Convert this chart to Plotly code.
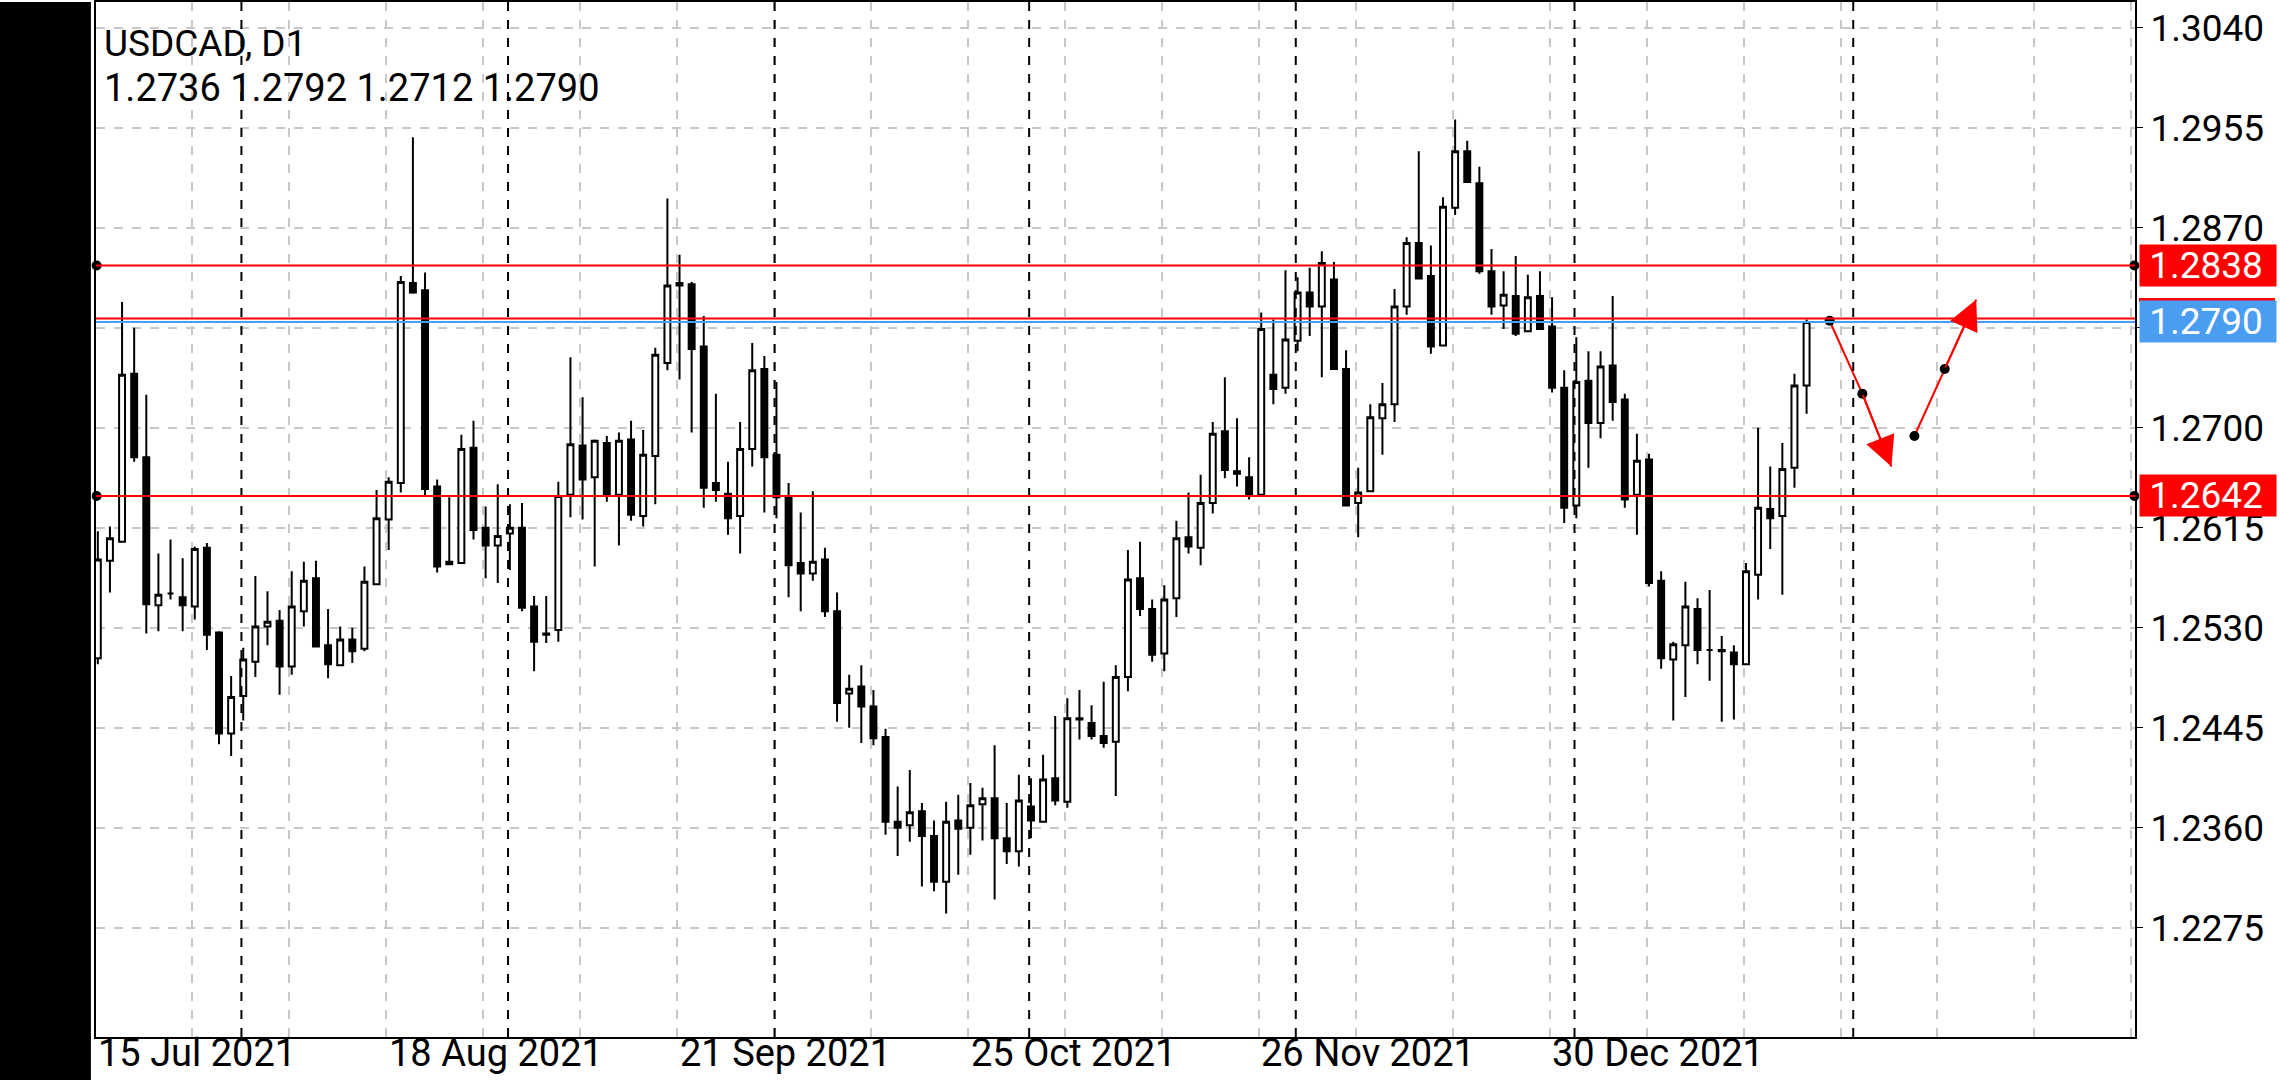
import plotly.graph_objects as go

# ---- data (USDCAD D1), bar index 0 = 15 Jul 2021 ----
opens = [1.2504,1.2587,1.2603,1.2746,1.2675,1.2549,1.2559,1.2556,1.2548,1.2598,
         1.2526,1.2440,1.2472,1.2501,1.2531,1.2536,1.2497,1.2544,1.2572,1.2515,
         1.2498,1.2520,1.2512,1.2567,1.2622,1.2653,1.2823,1.2817,1.2650,1.2584,
         1.2585,1.2683,1.2615,1.2600,1.2610,1.2615,1.2548,1.2525,1.2528,1.2643,
         1.2685,1.2658,1.2687,1.2643,1.2690,1.2625,1.2676,1.2755,1.2823,1.2822,
         1.2769,1.2653,1.2644,1.2625,1.2682,1.2750,1.2677,1.2641,1.2585,1.2576,
         1.2588,1.2544,1.2474,1.2480,1.2463,1.2437,1.2365,1.2362,1.2374,1.2353,
         1.2314,1.2366,1.2360,1.2380,1.2385,1.2351,1.2340,1.2378,1.2365,1.2402,
         1.2382,1.2453,1.2449,1.2438,1.2433,1.2488,1.2572,1.2546,1.2508,1.2555,
         1.2607,1.2598,1.2636,1.2697,1.2663,1.2658,1.2643,1.2745,1.2734,1.2774,
         1.2815,1.2803,1.2826,1.2750,1.2636,1.2646,1.2708,1.2720,1.2803,1.2857,
         1.2829,1.2770,1.2887,1.2935,1.2908,1.2833,1.2804,1.2812,1.2782,1.2812,
         1.2786,1.2734,1.2634,1.2740,1.2704,1.2753,1.2724,1.2643,1.2673,1.2570,
         1.2503,1.2515,1.2546,1.2511,1.2511,1.2509,1.2499,1.2575,1.2631,1.2625,
         1.2666,1.2736]
highs = [1.2612,1.2616,1.2807,1.2785,1.2728,1.2593,1.2605,1.2589,1.2599,1.2602,
         1.2527,1.2489,1.2513,1.2574,1.2561,1.2545,1.2578,1.2586,1.2587,1.2546,
         1.2531,1.2530,1.2582,1.2647,1.2658,1.2829,1.2947,1.2832,1.2656,1.2641,
         1.2694,1.2706,1.2633,1.2652,1.2635,1.2636,1.2557,1.2557,1.2654,1.2760,
         1.2726,1.2690,1.2693,1.2696,1.2706,1.2698,1.2768,1.2895,1.2847,1.2824,
         1.2795,1.2729,1.2671,1.2705,1.2772,1.2761,1.2739,1.2653,1.2628,1.2646,
         1.2598,1.2560,1.2490,1.2498,1.2477,1.2444,1.2395,1.2409,1.2381,1.2366,
         1.2382,1.2388,1.2398,1.2394,1.2430,1.2381,1.2405,1.2402,1.2422,1.2455,
         1.2470,1.2477,1.2464,1.2484,1.2498,1.2596,1.2603,1.2554,1.2566,1.2621,
         1.2645,1.2660,1.2705,1.2743,1.2708,1.2675,1.2798,1.2792,1.2834,1.2828,
         1.2836,1.2850,1.2841,1.2766,1.2666,1.2720,1.2738,1.2818,1.2862,1.2935,
         1.2855,1.2896,1.2962,1.2944,1.2922,1.2852,1.2833,1.2846,1.2830,1.2833,
         1.2811,1.2749,1.2777,1.2765,1.2765,1.2812,1.2729,1.2695,1.2678,1.2578,
         1.2518,1.2569,1.2555,1.2562,1.2523,1.2515,1.2585,1.2700,1.2667,1.2687,
         1.2746,1.2792]
lows = [1.2499,1.2560,1.2603,1.2671,1.2525,1.2527,1.2554,1.2527,1.2537,1.2511,
        1.2431,1.2421,1.2451,1.2488,1.2515,1.2473,1.2490,1.2531,1.2514,1.2487,
        1.2498,1.2500,1.2510,1.2566,1.2596,1.2645,1.2814,1.2642,1.2577,1.2584,
        1.2585,1.2605,1.2572,1.2568,1.2579,1.2544,1.2493,1.2517,1.2518,1.2624,
        1.2622,1.2582,1.2637,1.2600,1.2621,1.2616,1.2635,1.2749,1.2741,1.2696,
        1.2632,1.2637,1.2609,1.2593,1.2667,1.2628,1.2623,1.2556,1.2544,1.2570,
        1.2539,1.2450,1.2445,1.2432,1.2430,1.2354,1.2336,1.2348,1.2310,1.2306,
        1.2287,1.2320,1.2337,1.2349,1.2299,1.2329,1.2327,1.2351,1.2365,1.2379,
        1.2377,1.2435,1.2435,1.2428,1.2387,1.2476,1.2540,1.2501,1.2493,1.2539,
        1.2593,1.2583,1.2627,1.2657,1.2650,1.2639,1.2643,1.2720,1.2729,1.2765,
        1.2778,1.2743,1.2750,1.2633,1.2607,1.2646,1.2677,1.2705,1.2796,1.2827,
        1.2763,1.2770,1.2881,1.2909,1.2831,1.2796,1.2784,1.2778,1.2782,1.2784,
        1.2730,1.2619,1.2623,1.2666,1.2691,1.2706,1.2632,1.2609,1.2565,1.2495,
        1.2451,1.2471,1.2499,1.2485,1.2450,1.2452,1.2499,1.2554,1.2597,1.2558,
        1.2649,1.2712]
closes = [1.2588,1.2606,1.2745,1.2675,1.2550,1.2558,1.2559,1.2549,1.2597,1.2524,
          1.2440,1.2471,1.2503,1.2531,1.2535,1.2497,1.2548,1.2570,1.2514,1.2499,
          1.2520,1.2510,1.2569,1.2623,1.2654,1.2824,1.2815,1.2648,1.2582,1.2586,
          1.2682,1.2613,1.2600,1.2608,1.2615,1.2547,1.2518,1.2524,1.2642,1.2686,
          1.2656,1.2689,1.2642,1.2689,1.2626,1.2677,1.2762,1.2821,1.2821,1.2767,
          1.2649,1.2647,1.2623,1.2682,1.2749,1.2675,1.2641,1.2583,1.2576,1.2586,
          1.2544,1.2466,1.2478,1.2463,1.2436,1.2365,1.2360,1.2373,1.2353,1.2314,
          1.2365,1.2359,1.2379,1.2385,1.2351,1.2340,1.2383,1.2366,1.2401,1.2383,
          1.2453,1.2452,1.2438,1.2432,1.2488,1.2571,1.2546,1.2507,1.2554,1.2606,
          1.2599,1.2636,1.2695,1.2664,1.2661,1.2642,1.2784,1.2733,1.2775,1.2815,
          1.2803,1.2840,1.2750,1.2634,1.2645,1.2709,1.2720,1.2803,1.2857,1.2827,
          1.2769,1.2888,1.2935,1.2909,1.2833,1.2803,1.2813,1.2780,1.2811,1.2784,
          1.2734,1.2632,1.2739,1.2704,1.2752,1.2722,1.2639,1.2672,1.2568,1.2504,
          1.2516,1.2548,1.2511,1.2511,1.2510,1.2499,1.2578,1.2632,1.2623,1.2665,
          1.2736,1.2790]
bars = list(range(len(closes)))

price_ticks = [1.2275, 1.2360, 1.2445, 1.2530, 1.2615, 1.2700, 1.2785, 1.2870, 1.2955, 1.3040]
date_labels = ["15 Jul 2021", "18 Aug 2021", "21 Sep 2021", "25 Oct 2021", "26 Nov 2021", "30 Dec 2021"]
date_label_bars = [0, 24, 48, 72, 96, 120]
month_sep_bars = [12, 34, 56, 77, 99, 122, 145]
grid_bars = list(range(8, 169, 8))

levels_red = [1.2838, 1.2642]
red_high_line = 1.2793
bid = 1.2790

# projection path (two polylines)
proj1_x = [142.9, 145.6, 148.0]
proj1_y = [1.2791, 1.2729, 1.2667]
proj2_x = [149.9, 152.4, 155.0]
proj2_y = [1.2693, 1.2750, 1.2809]

X0, X1 = -0.15, 168.1
Y0, Y1 = 1.2182, 1.3062
FONT = "Roboto"
BLUE = "#4a9df0"

fig = go.Figure()
fig.add_trace(go.Candlestick(
    x=bars, open=opens, high=highs, low=lows, close=closes,
    increasing=dict(line=dict(color="black", width=2), fillcolor="white"),
    decreasing=dict(line=dict(color="black", width=2), fillcolor="black"),
    whiskerwidth=0, showlegend=False, hoverinfo="skip"))

shapes = []
shapes.append(dict(type="rect", xref="paper", yref="paper", x0=-0.0475, x1=-0.0025,
                   y0=-0.05, y1=1.0, fillcolor="black", line=dict(width=0), layer="above"))
for b in month_sep_bars:
    shapes.append(dict(type="line", xref="x", yref="paper", x0=b - 0.15, x1=b - 0.15, y0=0, y1=1,
                       line=dict(color="black", width=2, dash="dash"), layer="above"))
for lv in levels_red:
    shapes.append(dict(type="line", xref="paper", yref="y", x0=0, x1=1, y0=lv, y1=lv,
                       line=dict(color="red", width=2)))
shapes.append(dict(type="line", xref="paper", yref="y", x0=0, x1=1, y0=bid, y1=bid,
                   line=dict(color=BLUE, width=2)))
shapes.append(dict(type="line", xref="paper", yref="y", x0=0, x1=1, y0=red_high_line, y1=red_high_line,
                   line=dict(color="red", width=2)))
# red price tag peeking above the blue bid tag
shapes.append(dict(type="rect", xref="paper", yref="y", xsizemode="pixel", ysizemode="pixel",
                   xanchor=1, yanchor=bid, x0=4, x1=140, y0=20, y1=24,
                   fillcolor="red", line=dict(width=0)))
fig.update_layout(shapes=shapes)

fig.add_trace(go.Scatter(x=[X0 + 0.05, X1 - 0.05] * 2,
                         y=[levels_red[0], levels_red[0], levels_red[1], levels_red[1]],
                         mode="markers", marker=dict(color="black", size=10),
                         showlegend=False, hoverinfo="skip", cliponaxis=False))
for px, py in ((proj1_x, proj1_y), (proj2_x, proj2_y)):
    fig.add_trace(go.Scatter(x=px, y=py, mode="lines", line=dict(color="red", width=2),
                             showlegend=False, hoverinfo="skip"))
    fig.add_trace(go.Scatter(x=px[:2], y=py[:2], mode="markers", marker=dict(color="black", size=10),
                             showlegend=False, hoverinfo="skip"))
    fig.add_annotation(x=px[2], y=py[2], ax=px[1], ay=py[1], xref="x", yref="y", axref="x", ayref="y",
                       showarrow=True, arrowhead=2, arrowsize=3, arrowwidth=2, arrowcolor="red", text="")

anns = []
anns.append(dict(text="USDCAD, D1", xref="paper", yref="paper", x=0.003, y=0.960, xanchor="left",
                 yanchor="middle", showarrow=False, font=dict(family=FONT, size=37, color="black")))
anns.append(dict(text="%.4f %.4f %.4f %.4f" % (opens[-1], highs[-1], lows[-1], closes[-1]),
                 xref="paper", yref="paper", x=0.003, y=0.917, xanchor="left", yanchor="middle",
                 showarrow=False, font=dict(family=FONT, size=38, color="black")))
for t, b in zip(date_labels, date_label_bars):
    anns.append(dict(text=t, xref="x", yref="paper", x=b - 0.15, y=-0.0155, xanchor="left", yanchor="middle",
                     showarrow=False, font=dict(family=FONT, size=38, color="black")))
for lv, col in ((levels_red[0], "red"), (bid, BLUE), (levels_red[1], "red")):
    anns.append(dict(text=" %.4f" % lv, xref="paper", yref="y", x=1.0, y=lv, xanchor="left",
                     yanchor="middle", showarrow=False, bgcolor=col, width=136, height=41,
                     align="left", borderpad=0, xshift=4,
                     font=dict(family=FONT, size=37, color="white")))
for a in anns:
    fig.add_annotation(**a)

fig.update_layout(
    width=2280, height=1080, margin=dict(l=96, r=145, t=0, b=43),
    paper_bgcolor="white", plot_bgcolor="white",
    xaxis=dict(range=[X0, X1], rangeslider=dict(visible=False), tickvals=[g - 0.2 for g in grid_bars],
               showticklabels=False, showgrid=True, gridcolor="#c8c8c8", griddash="dash", gridwidth=1.5,
               showline=True, linecolor="black", linewidth=2, mirror=True, zeroline=False, ticks=""),
    yaxis=dict(range=[Y0, Y1], side="right", tickvals=price_ticks, ticktext=["%.4f" % v for v in price_ticks],
               showgrid=True, gridcolor="#c8c8c8", griddash="dash", gridwidth=1.5,
               showline=True, linecolor="black", linewidth=2, mirror=True, zeroline=False,
               ticks="outside", ticklen=6, tickcolor="black",
               tickfont=dict(family=FONT, size=37, color="black")),
)
fig.write_html("out.html", config={"displayModeBar": False})
with open("out.html", encoding="utf-8") as f:
    html = f.read()
html = html.replace("<head>", "<head><style>html,body{margin:0;padding:0;overflow:hidden;}</style>", 1)
with open("out.html", "w", encoding="utf-8") as f:
    f.write(html)
